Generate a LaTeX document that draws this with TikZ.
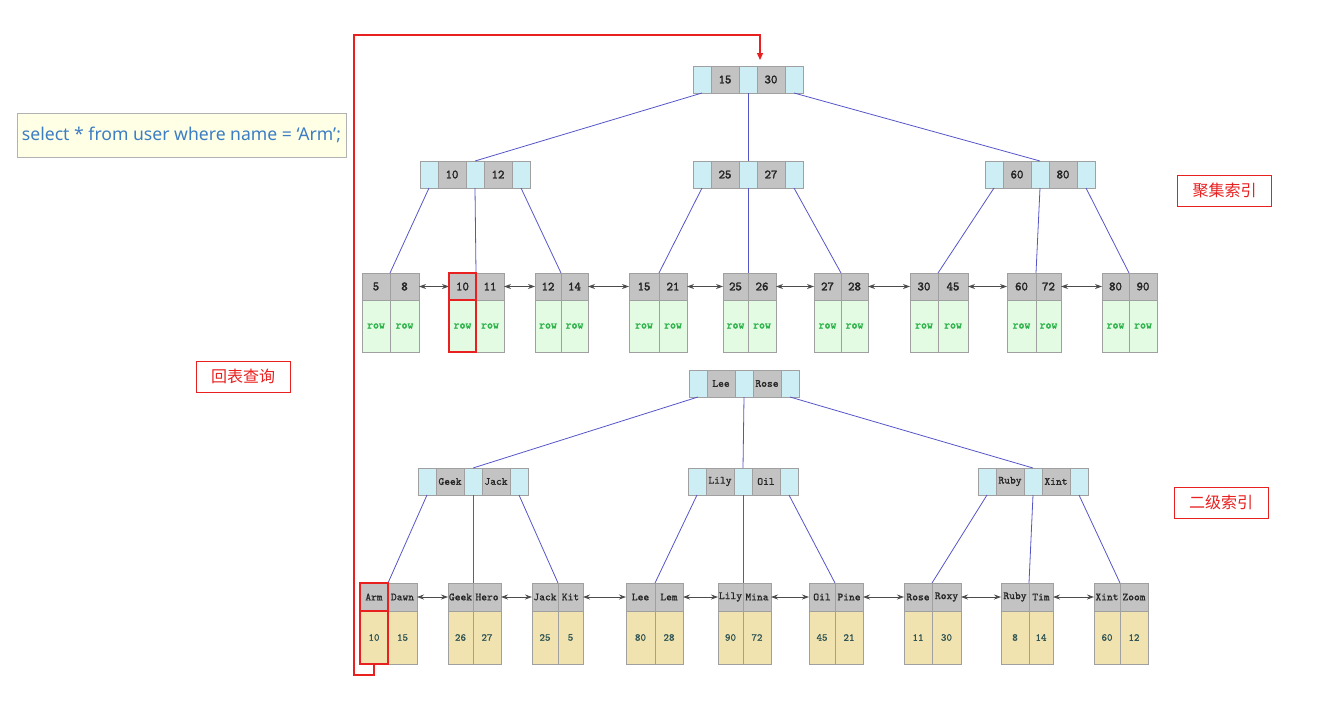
\documentclass[tikz,border=0pt]{standalone}
\usepackage{fontspec}
\usetikzlibrary{arrows.meta}
\newfontfamily\cjkf{Noto Sans CJK SC}
\newfontfamily\sqlf{Noto Sans}
\newfontfamily\monob{Latin Modern Mono}[FakeBold=2.2]
\newfontfamily\monom{Latin Modern Mono}[FakeBold=1]
\definecolor{pblue}{HTML}{CDEEF4}
\definecolor{kgray}{HTML}{C3C3C3}
\definecolor{bord}{HTML}{A0A0A0}
\definecolor{rowg}{HTML}{E2FBE2}
\definecolor{rowt}{HTML}{2DB34A}
\definecolor{valy}{HTML}{F0E3B0}
\definecolor{valt}{HTML}{2F5555}
\definecolor{edgec}{HTML}{5555C8}
\definecolor{rd}{HTML}{E82020}
\definecolor{sqlbg}{HTML}{FFFFE6}
\definecolor{sqlt}{HTML}{3C7DC4}
\tikzset{
  cellbase/.style={draw=bord, line width=0.8pt, inner sep=0pt, outer sep=0pt, anchor=north west, minimum height=27pt},
  pcell/.style={cellbase, fill=pblue, minimum width=18pt},
  kcell/.style={cellbase, fill=kgray, minimum width=28pt, text=black!85},
  edgeline/.style={draw=edgec, line width=0.8pt},
  link/.style={draw=black!70, line width=0.8pt, {Stealth[length=7pt,width=5pt]}-{Stealth[length=7pt,width=5pt]}},
  redbox/.style={draw=rd, line width=1.6pt},
  lab/.style={draw=rd, line width=0.8pt, text=rd, font=\cjkf\fontsize{16}{16}\selectfont, minimum width=94pt, minimum height=31pt, inner sep=0pt},
}
\newcommand\inode[6]{%
  \node[pcell] (#1p1) at (#2,#3) {};
  \node[kcell,font={#6}] (#1k1) at (#2+18,#3) {#4};
  \node[pcell] (#1p2) at (#2+46,#3) {};
  \node[kcell,font={#6}] (#1k2) at (#2+64,#3) {#5};
  \node[pcell] (#1p3) at (#2+92,#3) {};
}
\newcommand\leaf[9]{%
  \node[hcell, minimum width={(#3-#2)*1pt}] (#1k1) at (#2,#5) {#6};
  \node[hcell, minimum width={(#4-#3)*1pt}] (#1k2) at (#3,#5) {#7};
  \node[vcell, minimum width={(#3-#2)*1pt}] (#1v1) at (#2,#5+27) {#8};
  \node[vcell, minimum width={(#4-#3)*1pt}] (#1v2) at (#3,#5+27) {#9};
}
\newcommand\bleaf[9]{%
  \node[hcell, minimum width={(#3-#2)*1pt}] (#1k1) at (#2,#5) {#6};
  \node[hcell, minimum width={(#4-#3)*1pt}] (#1k2) at (#3,#5) {#7};
  \node[vcell, minimum width={(#3-#2)*1pt}] (#1v1) at (#2,#5+28) {#8};
  \node[vcell, minimum width={(#4-#3)*1pt}] (#1v2) at (#3,#5+28) {#9};
}
\begin{document}
\begin{tikzpicture}[x=1pt,y=-1pt]
\useasboundingbox (0,0) rectangle (1344,705);
% SQL box
\node[draw=black!30, fill=sqlbg, line width=0.8pt, minimum width=329pt, minimum height=44pt, inner sep=0pt, text=sqlt, font=\sqlf\fontsize{17.6}{17.6}\selectfont] (sql) at (181.5,135) {\raisebox{-1.5pt}{select * from user where name = ‘Arm’;}};
% labels
\node[lab] (jj) at (1224.5,190.5) {聚集索引};
\node[lab] (ej) at (1221,502.5) {二级索引};
\node[lab] (hb) at (243,376.5) {回表查询};

% ---------- clustered index ----------
\def\kf{\monob\fontsize{12.5}{12.5}\selectfont}
\inode{tr}{693}{66}{15}{30}{\kf}
\inode{ta}{420}{161}{10}{12}{\kf}
\inode{tb}{693}{161}{25}{27}{\kf}
\inode{tc}{985}{161}{60}{80}{\kf}
\tikzset{
  hcell/.style={cellbase, fill=kgray, text=black!85, font=\monob\fontsize{12.5}{12.5}\selectfont},
  vcell/.style={cellbase, minimum height=52pt, fill=rowg, text=rowt, font=\monob\fontsize{11.5}{11.5}\selectfont},
}
\leaf{t1}{362}{390}{419}{273}{5}{8}{row}{row}
\leaf{t2}{449}{476}{504}{273}{10}{11}{row}{row}
\leaf{t3}{535}{561}{588}{273}{12}{14}{row}{row}
\leaf{t4}{629}{659}{687}{273}{15}{21}{row}{row}
\leaf{t5}{723}{748}{776}{273}{25}{26}{row}{row}
\leaf{t6}{814}{841}{868}{273}{27}{28}{row}{row}
\leaf{t7}{910}{938}{968}{273}{30}{45}{row}{row}
\leaf{t8}{1007}{1036}{1061}{273}{60}{72}{row}{row}
\leaf{t9}{1102}{1129}{1157}{273}{80}{90}{row}{row}
\draw[edgeline] (trp1.south) -- (tap2.north);
\draw[edgeline] (trp2.south) -- (tbp2.north);
\draw[edgeline] (trp3.south) -- (tcp2.north);
\draw[edgeline] (tap1.south) -- (t1k1.north east);
\draw[edgeline] (tap2.south) -- (t2k1.north east);
\draw[edgeline] (tap3.south) -- (t3k1.north east);
\draw[edgeline] (tbp1.south) -- (t4k1.north east);
\draw[edgeline] (tbp2.south) -- (t5k1.north east);
\draw[edgeline] (tbp3.south) -- (t6k1.north east);
\draw[edgeline] (tcp1.south) -- (t7k1.north east);
\draw[edgeline] (tcp2.south) -- (t8k1.north east);
\draw[edgeline] (tcp3.south) -- (t9k1.north east);
\foreach \a/\b in {t1/t2,t2/t3,t3/t4,t4/t5,t5/t6,t6/t7,t7/t8,t8/t9}
  \draw[link] (\a k2.east) -- (\b k1.west);

% ---------- secondary index ----------
\def\nf{\monom\fontsize{11}{11}\selectfont}
\inode{br}{689}{370}{Lee}{Rose}{\nf}
\inode{ba}{418}{468}{Geek}{Jack}{\nf}
\inode{bb}{688}{468}{Lily}{Oil}{\nf}
\inode{bc}{978}{468}{Ruby}{Xint}{\nf}
\tikzset{
  hcell/.style={cellbase, minimum height=28pt, fill=kgray, text=black!85, font=\monom\fontsize{11}{11}\selectfont},
  vcell/.style={cellbase, minimum height=53pt, fill=valy, text=valt, font=\monom\fontsize{10.5}{10.5}\selectfont},
}
\bleaf{b1}{360}{388}{417}{583}{Arm}{Dawn}{10}{15}
\bleaf{b2}{448}{473}{501}{583}{Geek}{Hero}{26}{27}
\bleaf{b3}{532}{558}{583}{583}{Jack}{Kit}{25}{5}
\bleaf{b4}{626}{655}{683}{583}{Lee}{Lem}{80}{28}
\bleaf{b5}{718}{743}{771}{583}{Lily}{Mina}{90}{72}
\bleaf{b6}{809}{835}{863}{583}{Oil}{Pine}{45}{21}
\bleaf{b7}{904}{932}{961}{583}{Rose}{Roxy}{11}{30}
\bleaf{b8}{1001}{1029}{1053}{583}{Ruby}{Tim}{8}{14}
\bleaf{b9}{1094}{1120}{1148}{583}{Xint}{Zoom}{60}{12}
\draw[edgeline] (brp1.south) -- (bap2.north);
\draw[edgeline] (brp2.south) -- (bbp2.north);
\draw[edgeline] (brp3.south) -- (bcp2.north);
\draw[edgeline] (bap1.south) -- (b1k1.north east);
\draw[edgeline] (bap2.south) -- (b2k1.north east);
\draw[edgeline] (bap3.south) -- (b3k1.north east);
\draw[edgeline] (bbp1.south) -- (b4k1.north east);
\draw[edgeline] (bbp2.south) -- (b5k1.north east);
\draw[edgeline] (bbp3.south) -- (b6k1.north east);
\draw[edgeline] (bcp1.south) -- (b7k1.north east);
\draw[edgeline] (bcp2.south) -- (b8k1.north east);
\draw[edgeline] (bcp3.south) -- (b9k1.north east);
\foreach \a/\b in {b1/b2,b2/b3,b3/b4,b4/b5,b5/b6,b6/b7,b7/b8,b8/b9}
  \draw[link] (\a k2.east) -- (\b k1.west);

% ---------- highlights and lookup path ----------
\draw[redbox] (t2k1.north west) rectangle (t2k1.south east);
\draw[redbox] (t2v1.north west) rectangle (t2v1.south east);
\draw[redbox] (b1k1.north west) rectangle (b1k1.south east);
\draw[redbox] (b1v1.north west) rectangle (b1v1.south east);
\coordinate (cbl) at (354,675);
\coordinate (ctl) at (354,35);
\coordinate (ctip) at (760,60);
\draw[draw=rd, line width=1.3pt, -{Triangle[length=7pt,width=6pt,fill=rd]}] (b1v1.south) |- (cbl) -- (ctl) -| (ctip);
\end{tikzpicture}
\end{document}
